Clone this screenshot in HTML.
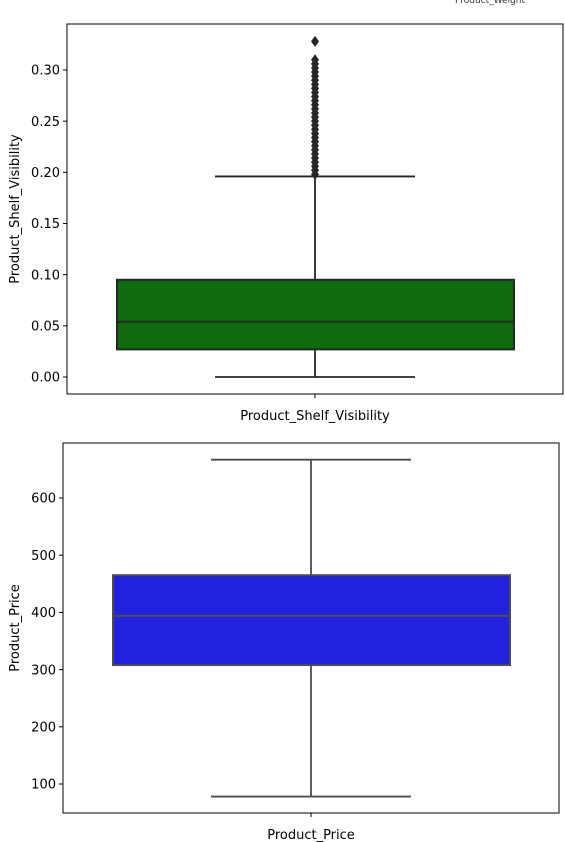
<!DOCTYPE html>
<html><head><meta charset="utf-8"><style>
body{margin:0;background:#fff;}
svg{display:block;font-family:"DejaVu Sans","Liberation Sans",sans-serif;}
</style></head><body>
<svg id="c" width="565" height="842">
<text x="490" y="3" font-size="9" text-anchor="middle" fill="#333">Product_Weight</text>
</svg>
<script>
// Top chart data
const visTicks = [0.00, 0.05, 0.10, 0.15, 0.20, 0.25, 0.30];
const visStats = [0.000, 0.027, 0.054, 0.095, 0.196]; // min,q1,median,q3,max
const visOutliers = [0.198,0.202,0.206,0.210,0.214,0.218,0.222,0.226,0.230,0.234,0.238,0.242,0.246,0.250,0.254,0.258,0.262,0.266,0.270,0.274,0.278,0.282,0.286,0.290,0.294,0.298,0.302,0.306,0.310,0.328];
// Bottom chart data
const priceTicks = [100, 200, 300, 400, 500, 600];
const priceStats = [78, 308, 394, 465, 667];

const NS='http://www.w3.org/2000/svg';
const svg=document.getElementById('c');
function mk(t,a,p){const e=document.createElementNS(NS,t);for(const k in a)e.setAttribute(k,a[k]);(p||svg).appendChild(e);return e;}

function chart(o){
  const g=mk('g',{});
  
  
  const y=v=>o.y0+(v-o.v0)*(o.y1-o.y0)/(o.v1-o.v0);
  const cx=(o.L+o.R)/2, bl=o.L+50, br=o.R-49, cl=cx-100, cr=cx+100;
  const s=o.stats;
  const lc=o.lc;
  let e=mk('line',{x1:cx,x2:cx,y1:y(s[0]),y2:y(s[1]),stroke:lc,'stroke-width':1.8},g);
  
  e=mk('line',{x1:cx,x2:cx,y1:y(s[3]),y2:y(s[4]),stroke:lc,'stroke-width':1.8},g);
  
  e=mk('line',{x1:cl,x2:cr,y1:y(s[0]),y2:y(s[0]),stroke:lc,'stroke-width':1.8},g);
  
  e=mk('line',{x1:cl,x2:cr,y1:y(s[4]),y2:y(s[4]),stroke:lc,'stroke-width':1.8},g);
  
  e=mk('rect',{x:bl,y:y(s[3]),width:br-bl,height:y(s[1])-y(s[3]),fill:o.fill,stroke:lc,'stroke-width':2},g);
  
  e=mk('line',{x1:bl,x2:br,y1:y(s[2]),y2:y(s[2]),stroke:lc,'stroke-width':2},g);
  
  (o.out||[]).forEach(v=>{
    const d=mk('path',{d:`M${cx} ${y(v)-5.5}L${cx+4} ${y(v)}L${cx} ${y(v)+5.5}L${cx-4} ${y(v)}Z`,fill:lc},g);
    
  });
  e=mk('rect',{x:o.L,y:o.T,width:o.R-o.L,height:o.B-o.T,fill:'none',stroke:'#000','stroke-width':1},g);
  
  o.ticks.forEach(v=>{
    const t=mk('line',{x1:o.L-4,x2:o.L,y1:y(v),y2:y(v),stroke:'#000'},g);
    
    const l=mk('text',{x:o.L-7,y:y(v)+4.7,'font-size':13,'text-anchor':'end',fill:'#000'},g);
    l.textContent=o.fmt(v);
    
  });
  const xt=mk('line',{x1:cx,x2:cx,y1:o.B,y2:o.B+4,stroke:'#000'},g);
  
  const xl=mk('text',{x:cx,y:o.B+26,'font-size':13,'text-anchor':'middle',fill:'#000'},g);
  xl.textContent=o.label;
  
  const yl=mk('text',{x:0,y:0,'font-size':13,'text-anchor':'middle',fill:'#000',transform:`translate(${o.ylx},${(o.T+o.B)/2}) rotate(-90)`},g);
  yl.textContent=o.label;
  
}
chart({name:'visibility-boxplot',L:67,R:563,T:24,B:394,v0:0,y0:377,v1:0.30,y1:70,stats:visStats,out:visOutliers,ticks:visTicks,fmt:v=>v.toFixed(2),fill:'#0e6b0e',lc:'#262626',label:'Product_Shelf_Visibility',ylx:19});
chart({name:'price-boxplot',L:63,R:559,T:443,B:813,v0:100,y0:784,v1:600,y1:498,stats:priceStats,out:[],ticks:priceTicks,fmt:v=>String(v),fill:'#2121e0',lc:'#4d4d4d',label:'Product_Price',ylx:19});
</script>
</body></html>
